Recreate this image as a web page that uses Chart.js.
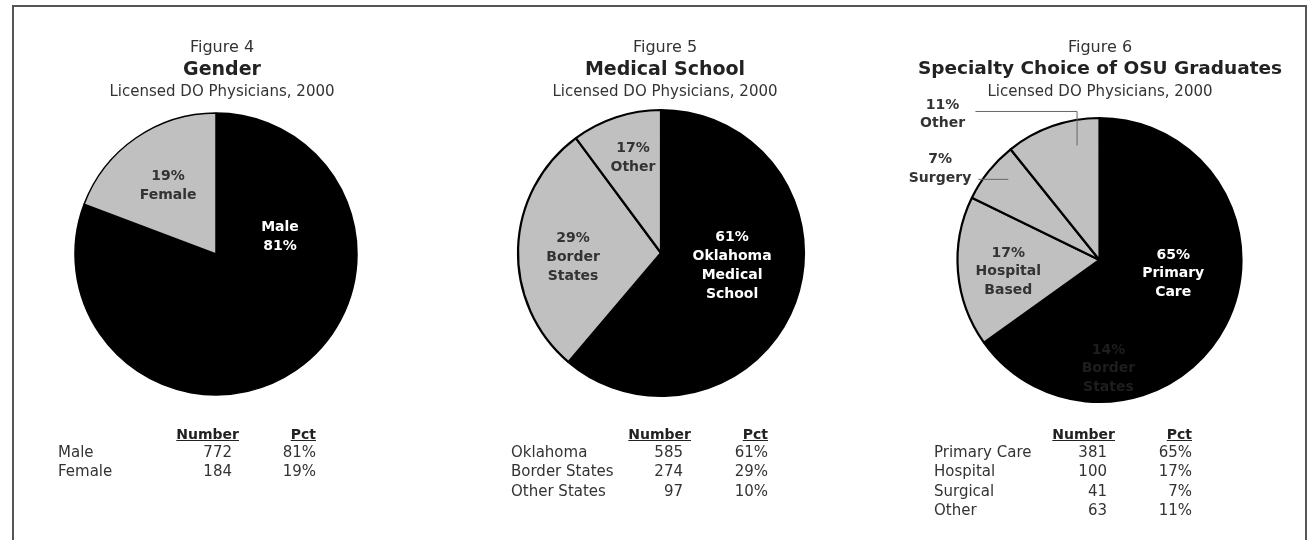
<!DOCTYPE html>
<html>
<head>
<meta charset="utf-8">
<script src="https://cdn.jsdelivr.net/npm/chart.js@4.4.1/dist/chart.umd.min.js"></script>
<style>
  html, body { margin: 0; padding: 0; background: #fff; }
  body { width: 1308px; height: 540px; position: relative; overflow: hidden; font-family: "DejaVu Sans", sans-serif; color: #333; }
  #frame { position: absolute; left: 12px; top: 5px; width: 1295px; height: 560px; border: 2px solid #555; box-sizing: border-box; }
  canvas.pie { position: absolute; left: 0; top: 0; pointer-events: none; }
  .t { position: absolute; white-space: nowrap; transform: translateX(-50%); text-align: center; }
  .fig { font-size: 16px; line-height: 20px; color: #333; }
  .main { font-size: 19px; line-height: 24px; font-weight: bold; color: #222; }
  .main.wide { font-size: 18.5px; }
  .sub { font-size: 15px; line-height: 20px; color: #333; }
  .cell { position: absolute; white-space: nowrap; font-size: 15px; line-height: 20px; color: #333; }
  .hdr { font-weight: bold; font-size: 14px; text-decoration: underline; color: #222; }
  .r { transform: translateX(-100%); }
</style>
</head>
<body>
<div id="frame"></div>
<canvas id="c1" class="pie" width="1308" height="540"></canvas>
<canvas id="c2" class="pie" width="1308" height="540"></canvas>
<canvas id="c3" class="pie" width="1308" height="540"></canvas>
<div id="texts"></div>
<script>
// ---------------- DATA ----------------
const figureNames = ['Figure 4', 'Figure 5', 'Figure 6'];
const figureTitles = ['Gender', 'Medical School', 'Specialty Choice of OSU Graduates'];
const figureSubtitle = 'Licensed DO Physicians, 2000';
const tableHeaders = ['Number', 'Pct'];

const genderLabels = ['Male', 'Female'];
const genderCounts = [772, 184];
const genderPct = ['81%', '19%'];
const genderSliceText = [['Male', '81%'], ['19%', 'Female']];

const schoolLabels = ['Oklahoma', 'Border States', 'Other States'];
const schoolCounts = [585, 274, 97];
const schoolPct = ['61%', '29%', '10%'];
const schoolSliceText = [['61%', 'Oklahoma', 'Medical', 'School'], ['29%', 'Border', 'States'], ['17%', 'Other']];

const specialtyLabels = ['Primary Care', 'Hospital', 'Surgical', 'Other'];
const specialtyCounts = [381, 100, 41, 63];
const specialtyPct = ['65%', '17%', '7%', '11%'];
const specialtySliceText = [['65%', 'Primary', 'Care'], ['17%', 'Hospital', 'Based'], ['7%', 'Surgery'], ['11%', 'Other']];
const specialtyStrayText = ['14%', 'Border', 'States'];

// ---------------- LAYOUT / STYLE ----------------
const W = 1308, H = 540;
const BLACK = '#000000', GRAY = '#c0c0c0';

const sliceLabelPlugin = {
  id: 'sliceLabels',
  afterDatasetsDraw(chart, args, opts) {
    const arc = chart.getDatasetMeta(0).data[0];
    if (!arc) return;
    const cx = arc.x, cy = arc.y, r = arc.outerRadius;
    const ctx = chart.ctx;
    ctx.save();
    (opts.leaders || []).forEach(pts => {
      ctx.beginPath();
      ctx.strokeStyle = '#666';
      ctx.lineWidth = 1;
      pts.forEach(([px, py], i) => {
        const X = cx + px * r, Y = cy + py * r;
        if (i === 0) ctx.moveTo(X, Y); else ctx.lineTo(X, Y);
      });
      ctx.stroke();
    });
    ctx.font = 'bold 14px "DejaVu Sans"';
    ctx.textAlign = 'center';
    ctx.textBaseline = 'middle';
    const lh = opts.lineHeight || 19;
    (opts.items || []).forEach(it => {
      ctx.fillStyle = it.color;
      const n = it.lines.length;
      it.lines.forEach((ln, i) => {
        ctx.fillText(ln, cx + it.dx * r, cy + it.dy * r + (i - (n - 1) / 2) * lh);
      });
    });
    ctx.restore();
  }
};

function makePie(id, counts, labels, colors, geom, bw, labelOpts) {
  const S = 2 * geom.r + bw;
  new Chart(document.getElementById(id), {
    type: 'pie',
    data: {
      labels: labels,
      datasets: [{
        data: counts,
        backgroundColor: colors,
        borderColor: '#000',
        borderWidth: bw,
        hoverOffset: 0,
        offset: 0
      }]
    },
    options: {
      responsive: false,
      animation: false,
      events: [],
      layout: {
        padding: {
          left: geom.cx - S / 2,
          right: W - geom.cx - S / 2,
          top: geom.cy - S / 2,
          bottom: H - geom.cy - S / 2
        }
      },
      plugins: {
        legend: { display: false },
        tooltip: { enabled: false },
        title: { display: false },
        sliceLabels: labelOpts
      }
    },
    plugins: [sliceLabelPlugin]
  });
}

makePie('c1', genderCounts, genderLabels, [BLACK, GRAY], {cx: 216, cy: 254, r: 141}, 1.5, {
  lineHeight: 19,
  items: [
    {lines: genderSliceText[0], color: '#ffffff', dx: 0.454, dy: -0.124},
    {lines: genderSliceText[1], color: '#333333', dx: -0.34, dy: -0.486}
  ]
});

makePie('c2', schoolCounts, schoolLabels, [BLACK, GRAY, GRAY], {cx: 661, cy: 253, r: 143}, 2.2, {
  lineHeight: 19,
  items: [
    {lines: schoolSliceText[0], color: '#ffffff', dx: 0.497, dy: 0.087},
    {lines: schoolSliceText[1], color: '#333333', dx: -0.615, dy: 0.028},
    {lines: schoolSliceText[2], color: '#333333', dx: -0.196, dy: -0.664}
  ]
});

makePie('c3', specialtyCounts, specialtyLabels, [BLACK, GRAY, GRAY, GRAY], {cx: 1099.5, cy: 260, r: 142}, 2.2, {
  lineHeight: 18.5,
  leaders: [
    [[-0.874, -1.046], [-0.158, -1.046], [-0.158, -0.807]],
    [[-0.853, -0.568], [-0.642, -0.568]]
  ],
  items: [
    {lines: specialtySliceText[0], color: '#ffffff', dx: 0.519, dy: 0.095},
    {lines: specialtySliceText[1], color: '#333333', dx: -0.642, dy: 0.081},
    {lines: specialtySliceText[2], color: '#333333', dx: -1.123, dy: -0.642},
    {lines: specialtySliceText[3], color: '#333333', dx: -1.105, dy: -1.025},
    {lines: specialtyStrayText, color: '#1e1e1e', dx: 0.063, dy: 0.765}
  ]
});

// ---------------- TITLES & TABLES (HTML text) ----------------
const texts = document.getElementById('texts');
function addDiv(cls, text, left, top) {
  const d = document.createElement('div');
  d.className = cls;
  d.textContent = text;
  d.style.left = left + 'px';
  d.style.top = top + 'px';
  texts.appendChild(d);
  return d;
}
const titleX = [222, 665, 1100];
titleX.forEach((x, i) => {
  addDiv('t fig', figureNames[i], x, 37);
  addDiv(i === 2 ? 't main wide' : 't main', figureTitles[i], x, 55.5);
  addDiv('t sub', figureSubtitle, x, 81);
});

const tableCols = [
  {labelX: 58, numHdrR: 239, numR: 232, pctR: 316},
  {labelX: 511, numHdrR: 691, numR: 683, pctR: 768},
  {labelX: 934, numHdrR: 1115, numR: 1107, pctR: 1192}
];
const tables = [
  [genderLabels, genderCounts, genderPct],
  [schoolLabels, schoolCounts, schoolPct],
  [specialtyLabels, specialtyCounts, specialtyPct]
];
const hdrTop = 424, rowTop0 = 442, rowStep = 19.4;
tables.forEach(([labs, nums, pcts], t) => {
  const c = tableCols[t];
  addDiv('cell hdr r', tableHeaders[0], c.numHdrR, hdrTop);
  addDiv('cell hdr r', tableHeaders[1], c.pctR, hdrTop);
  labs.forEach((lab, i) => {
    const top = rowTop0 + i * rowStep;
    addDiv('cell', lab, c.labelX, top);
    addDiv('cell r', String(nums[i]), c.numR, top);
    addDiv('cell r', pcts[i], c.pctR, top);
  });
});
</script>
</body>
</html>
